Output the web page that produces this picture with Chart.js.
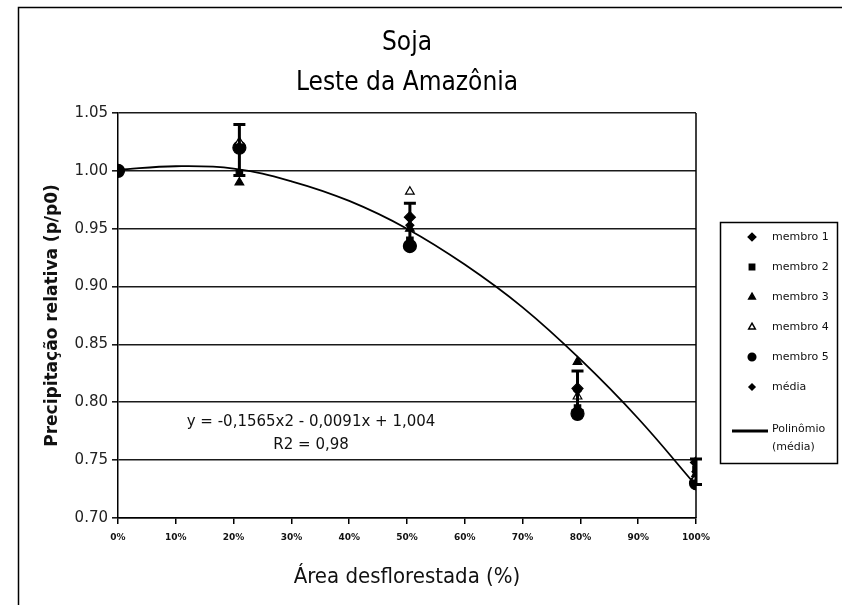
<!DOCTYPE html>
<html>
<head>
<meta charset="utf-8">
<script src="https://cdn.jsdelivr.net/npm/chart.js@4.4.1/dist/chart.umd.min.js"></script>
<style>
html, body { margin: 0; padding: 0; background: #fff; }
#wrap { width: 842px; height: 605px; }
</style>
</head>
<body>
<div id="wrap"><canvas id="chart" width="842" height="605"></canvas></div>
<script>
// deforested area (%) for each simulation
const areaPct = [0, 21, 50.5, 79.5, 100];

const membro1 = [1.00, 1.020, 0.960, 0.812, 0.748];
const membro2 = [1.00, 0.998, 0.940, 0.795, 0.742];
const membro3 = [1.00, 0.990, 0.950, 0.835, 0.738];
const membro4 = [1.00, 1.025, 0.982, 0.805, 0.735];
const membro5 = [1.00, 1.020, 0.935, 0.790, 0.730];
const media = [1.00, 1.018, 0.953, 0.810, 0.740];
const mediaErr = [0, 0.022, 0.019, 0.017, 0.011];

// polynomial trendline, every 10 %
const polyX = [0, 10, 20, 30, 40, 50, 60, 70, 80, 90, 100];
const polyY = [1.001, 1.004, 1.002, 0.991, 0.974, 0.950, 0.919, 0.882, 0.837, 0.786, 0.728];

const xTicks = [0, 10, 20, 30, 40, 50, 60, 70, 80, 90, 100];
const yTicks = [0.70, 0.75, 0.80, 0.85, 0.90, 0.95, 1.00, 1.05];

const titleLines = ["Soja", "Leste da Amazônia"];
const equationLines = ["y = -0,1565x2 - 0,0091x + 1,004", "R2 = 0,98"];

const narrow = "'Liberation Sans Narrow', 'DejaVu Sans Condensed', sans-serif";
const dejavu = "'DejaVu Sans', sans-serif";

function pts(ys) {
    return areaPct.map((x, i) => ({ x: x, y: ys[i] }));
}

function markerSet(label, ys, style, radius, fill) {
    return {
        label: label,
        data: pts(ys),
        pointStyle: style,
        pointRadius: radius,
        pointBackgroundColor: fill,
        pointBorderColor: "#000",
        pointBorderWidth: 1.2,
        showLine: false
    };
}

const frame = {
    id: "frame",
    beforeDraw(chart) {
        const ctx = chart.ctx;
        ctx.save();
        ctx.strokeStyle = "#000";
        ctx.lineWidth = 1.5;
        ctx.strokeRect(18.5, 7.5, 900, 700);
        ctx.restore();
    },
    afterDraw(chart) {
        const ctx = chart.ctx;
        const a = chart.chartArea;
        ctx.save();
        ctx.strokeStyle = "#000";
        ctx.lineWidth = 1.5;
        ctx.beginPath();
        ctx.moveTo(a.right, a.top);
        ctx.lineTo(a.right, a.bottom);
        ctx.stroke();

        // trendline equation
        const xs = chart.scales.x, ys = chart.scales.y;
        const ex = xs.getPixelForValue(33.4);
        const ey = ys.getPixelForValue(0.783);
        ctx.fillStyle = "#111";
        ctx.font = "15px " + dejavu;
        ctx.textAlign = "center";
        ctx.textBaseline = "middle";
        ctx.fillText(equationLines[0], ex, ey);
        ctx.fillText(equationLines[1], ex, ey + 23);
        ctx.restore();
    }
};

const errorBars = {
    id: "errorBars",
    afterDatasetsDraw(chart) {
        const ctx = chart.ctx;
        const y = chart.scales.y;
        const meta = chart.getDatasetMeta(5);
        ctx.save();
        ctx.strokeStyle = "#000";
        ctx.lineWidth = 3;
        meta.data.forEach((p, i) => {
            const e = mediaErr[i];
            if (!e) return;
            const top = y.getPixelForValue(media[i] + e);
            const bot = y.getPixelForValue(media[i] - e);
            ctx.beginPath();
            ctx.moveTo(p.x, top); ctx.lineTo(p.x, bot);
            ctx.moveTo(p.x - 6, top); ctx.lineTo(p.x + 6, top);
            ctx.moveTo(p.x - 6, bot); ctx.lineTo(p.x + 6, bot);
            ctx.stroke();
        });
        ctx.restore();
    }
};

const boxLegend = {
    id: "boxLegend",
    afterDraw(chart) {
        const ctx = chart.ctx;
        ctx.save();
        ctx.strokeStyle = "#000";
        ctx.lineWidth = 1.5;
        ctx.strokeRect(720.5, 222.5, 117, 241);
        ctx.font = "11px " + dejavu;
        ctx.textBaseline = "middle";
        ctx.textAlign = "left";
        chart.data.datasets.forEach((ds, i) => {
            if (ds.type === "line") {
                const ly = 431;
                ctx.lineWidth = 3;
                ctx.beginPath();
                ctx.moveTo(732, ly); ctx.lineTo(768, ly);
                ctx.stroke();
                ctx.fillStyle = "#111";
                ctx.fillText("Polinômio", 772, 429);
                ctx.fillText("(média)", 772, 447);
                return;
            }
            const ly = 237 + i * 30;
            ctx.fillStyle = ds.pointBackgroundColor;
            ctx.strokeStyle = "#000";
            Chart.helpers.drawPoint(ctx, {
                pointStyle: ds.pointStyle,
                radius: i === 5 ? 3 : 3.8,
                rotation: 0,
                borderWidth: 1.2
            }, 752, ly);
            ctx.fillStyle = "#111";
            ctx.fillText(ds.label, 772, ly);
        });
        ctx.restore();
    }
};

new Chart(document.getElementById("chart"), {
    type: "scatter",
    data: {
        datasets: [
            markerSet("membro 1", membro1, "rectRot", 5.5, "#000"),
            markerSet("membro 2", membro2, "rect", 4.5, "#000"),
            markerSet("membro 3", membro3, "triangle", 5, "#000"),
            markerSet("membro 4", membro4, "triangle", 5, "#fff"),
            markerSet("membro 5", membro5, "circle", 6.5, "#000"),
            markerSet("média", media, "rectRot", 4, "#000"),
            {
                type: "line",
                label: "Polinômio (média)",
                data: polyX.map((x, i) => ({ x: x, y: polyY[i] })),
                borderColor: "#000",
                borderWidth: 1.8,
                pointRadius: 0,
                tension: 0.4,
                fill: false
            }
        ]
    },
    options: {
        responsive: false,
        animation: false,
        layout: { padding: { left: 0, right: 146, top: 0, bottom: 0 } },
        plugins: {
            legend: { display: false },
            tooltip: { enabled: false },
            title: {
                display: true,
                fullSize: false,
                text: titleLines,
                color: "#000",
                font: { family: narrow, size: 26, weight: "normal", lineHeight: 40 / 26 },
                padding: { top: 23, bottom: 10 }
            }
        },
        scales: {
            x: {
                type: "linear",
                min: 0,
                max: 100,
                afterBuildTicks: s => { s.ticks = xTicks.map(v => ({ value: v })); },
                afterFit: s => { s.height = 87; },
                grid: { drawOnChartArea: false, tickLength: 6, color: "#000", lineWidth: 1.5 },
                border: { color: "#000", width: 1.5 },
                ticks: {
                    callback: v => v + "%",
                    color: "#111",
                    font: { family: dejavu, size: 9, weight: "bold" },
                    padding: 8,
                    maxRotation: 0,
                    autoSkip: false
                },
                title: {
                    display: true,
                    text: "Área desflorestada (%)",
                    color: "#111",
                    font: { family: narrow, size: 22, lineHeight: 1.2 },
                    padding: { top: 0, bottom: 15 }
                }
            },
            y: {
                min: 0.70,
                max: 1.05,
                afterBuildTicks: s => { s.ticks = yTicks.map(v => ({ value: v })); },
                afterFit: s => { s.width = 118; },
                grid: { color: "#1a1a1a", lineWidth: 1.6, tickLength: 6 },
                border: { color: "#000", width: 1.5 },
                ticks: {
                    callback: v => v.toFixed(2),
                    color: "#222",
                    font: { family: dejavu, size: 15 },
                    padding: 4
                },
                title: {
                    display: true,
                    text: "Precipitação relativa (p/p0)",
                    color: "#111",
                    font: { family: dejavu, size: 17, weight: "bold", lineHeight: 1.2 },
                    padding: { top: 42, bottom: 0 }
                }
            }
        }
    },
    plugins: [frame, errorBars, boxLegend]
});
</script>
</body>
</html>
